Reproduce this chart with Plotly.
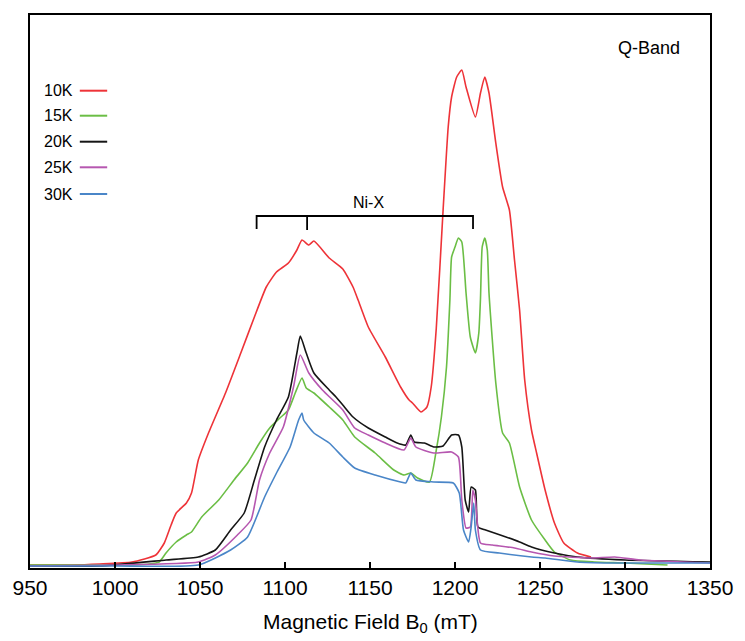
import plotly.graph_objects as go

# ---- data (magnetic field in mT, intensity in arbitrary units) ----
x_10K = [950, 975, 991, 1010, 1024, 1029, 1033, 1036, 1042, 1045, 1049, 1055, 1065, 1074, 1082, 1089, 1095,
         1102, 1107, 1110, 1114, 1117, 1126, 1134, 1140, 1143, 1149, 1159, 1168, 1173, 1175, 1180, 1183.5, 1186,
         1189, 1193, 1196, 1198, 1201, 1204, 1206.5, 1212, 1215, 1217.5, 1220, 1224, 1228, 1232, 1235, 1238,
         1241, 1245, 1248, 1253, 1258.5, 1264, 1272, 1280]
y_10K = [3, 3, 4, 6, 13, 25, 43, 55, 65, 75, 108, 135, 175, 215, 251, 281, 296,
         305, 318, 328, 323, 327, 310, 299, 281, 268, 241, 211, 181, 168, 165, 156, 161, 181,
         240, 358, 441, 471, 491, 498, 481, 451, 475, 491, 475, 425, 381, 358, 308, 258,
         188, 138, 115, 78, 45, 25, 15, 11]

x_15K = [950, 1000, 1020, 1026, 1030, 1036, 1042, 1045, 1051, 1061, 1070, 1078, 1085, 1091, 1097, 1102, 1106,
         1110, 1112.5, 1117, 1126, 1134, 1141, 1153, 1164, 1170, 1174, 1178, 1185, 1189, 1192, 1195, 1197,
         1198, 1200, 1202, 1204, 1206.5, 1209, 1212, 1214, 1215, 1216, 1217.5, 1219, 1220, 1224, 1228, 1232,
         1238, 1245, 1253, 1258.5, 1268, 1282, 1300, 1325]
y_15K = [3, 3, 4, 6, 15, 26, 33, 36, 51, 68, 88, 105, 125, 140, 150, 158, 175,
         190, 180, 175, 161, 148, 131, 115, 98, 93, 95, 90, 86, 118, 151, 201, 268,
         311, 321, 330, 326, 275, 231, 215, 235, 270, 321, 330, 318, 275, 185, 135, 125,
         81, 48, 28, 16, 8, 6, 5, 3]

x_20K = [950, 991, 1030, 1049, 1059, 1068, 1076, 1082, 1088, 1095, 1102, 1107, 1109, 1112.5, 1117, 1126, 1130,
         1134, 1140, 1149, 1159, 1166, 1171, 1174, 1176, 1182, 1187.5, 1193, 1198, 1202, 1204, 1206, 1208,
         1209.5, 1212, 1213.5, 1218, 1230, 1238, 1245, 1258.5, 1272, 1300, 1350]
y_20K = [2, 2, 8, 11, 18, 38, 55, 88, 121, 148, 171, 215, 232, 215, 195, 178, 171,
         163, 151, 140, 131, 125, 123, 133, 126, 125, 121, 122, 133, 133, 121, 68, 56,
         81, 78, 41, 38, 31, 26, 21, 15, 11, 8, 6]

x_25K = [950, 1000, 1049, 1059, 1072, 1080, 1085, 1091, 1099, 1105, 1109, 1114, 1122, 1134, 1141, 1149, 1159,
         1170, 1174, 1177, 1187.5, 1198, 1202, 1204, 1206.5, 1209, 1210.5, 1212, 1215, 1222, 1235, 1245,
         1258.5, 1280, 1294, 1309, 1350]
y_25K = [2, 3, 6, 13, 33, 48, 88, 115, 141, 181, 213, 195, 178, 158, 140, 133, 125,
         118, 130, 121, 115, 116, 111, 68, 40, 41, 78, 68, 25, 23, 20, 16,
         12, 10, 11, 8, 5]

x_30K = [950, 1000, 1049, 1068, 1078, 1088, 1095, 1103, 1108, 1110, 1111, 1117, 1126, 1134, 1141, 1153, 1168,
         1171, 1174, 1177, 1187.5, 1199, 1202.5, 1205, 1208, 1209.5, 1211, 1212, 1215, 1226, 1245, 1253,
         1272, 1291, 1350]
y_30K = [2, 2, 3, 18, 31, 71, 95, 121, 148, 155, 148, 135, 125, 111, 100, 93, 86,
         85, 95, 88, 86, 85, 75, 38, 26, 41, 65, 38, 18, 15, 11, 10,
         6, 5, 5]

series_names = ["10K", "15K", "20K", "25K", "30K"]
series_x = [x_10K, x_15K, x_20K, x_25K, x_30K]
series_y = [y_10K, y_15K, y_20K, y_25K, y_30K]
colors = ["#EE3338", "#6BBE45", "#151515", "#B657B0", "#4A86C8"]

x_ticks = [950, 1000, 1050, 1100, 1150, 1200, 1250, 1300, 1350]

bracket_x = [1083.3, 1113, 1210.6]   # Ni-X bracket: left end, centre tick, right end
bracket_y_top, bracket_y_bot = 352, 339

FONT = "Liberation Sans, Arial, sans-serif"

fig = go.Figure()
for name, xs, ys, c in zip(series_names, series_x, series_y, colors):
    fig.add_trace(go.Scatter(x=xs, y=ys, mode="lines", name=name,
                             line=dict(color=c, width=1.6, shape="spline", smoothing=0.5),
                             showlegend=False, hoverinfo="skip"))

# Ni-X bracket
fig.add_trace(go.Scatter(
    x=[bracket_x[0], bracket_x[0], bracket_x[2], bracket_x[2]],
    y=[bracket_y_bot, bracket_y_top, bracket_y_top, bracket_y_bot],
    mode="lines", line=dict(color="black", width=1.8), showlegend=False, hoverinfo="skip"))
fig.add_trace(go.Scatter(
    x=[bracket_x[1], bracket_x[1]], y=[bracket_y_top, bracket_y_bot - 1],
    mode="lines", line=dict(color="black", width=1.8), showlegend=False, hoverinfo="skip"))

annotations = [
    dict(x=1149, y=366, xref="x", yref="y", text="Ni-X", showarrow=False,
         font=dict(family=FONT, size=16, color="black")),
    dict(x=1314, y=520, xref="x", yref="y", text="Q-Band", showarrow=False,
         font=dict(family=FONT, size=18, color="black")),
    dict(x=0.5, y=-0.1, xref="paper", yref="paper", text="Magnetic Field B<sub>0</sub> (mT)",
         showarrow=False, yanchor="middle", font=dict(family=FONT, size=21, color="black")),
]

shapes = []
# custom legend (label left, line right)
leg_y = [477.3, 452.3, 426.3, 400.7, 374]
for name, c, ly in zip(series_names, colors, leg_y):
    annotations.append(dict(x=976.5, y=ly, xref="x", yref="y", text=name, showarrow=False,
                            xanchor="right", yanchor="middle",
                            font=dict(family=FONT, size=16, color="black")))
    shapes.append(dict(type="line", xref="x", yref="y", x0=979.3, x1=995.4, y0=ly, y1=ly,
                       line=dict(color=c, width=2)))

fig.update_layout(
    width=745, height=641,
    margin=dict(l=28, r=23, t=15, b=73),
    paper_bgcolor="white", plot_bgcolor="white",
    annotations=annotations, shapes=shapes,
    showlegend=False,
)
fig.update_xaxes(range=[950, 1350], tickvals=x_ticks, ticktext=[str(t) for t in x_ticks],
                 ticks="inside", ticklen=6, tickwidth=1.8, tickcolor="black",
                 showline=True, linecolor="black", linewidth=2.2, mirror=True,
                 showgrid=False, zeroline=False, ticklabeloverflow="allow",
                 tickfont=dict(family=FONT, size=21, color="black"))
fig.update_yaxes(range=[0, 553], showticklabels=False, ticks="",
                 showline=True, linecolor="black", linewidth=2.2, mirror=True,
                 showgrid=False, zeroline=False)

fig.write_html("out.html")
